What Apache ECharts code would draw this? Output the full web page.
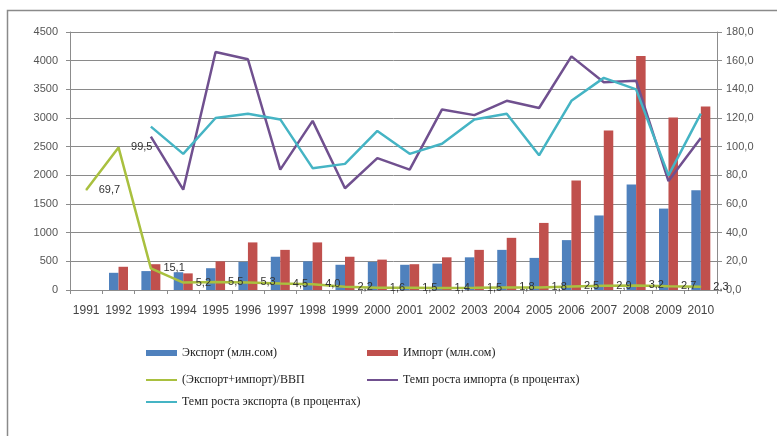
<!DOCTYPE html>
<html>
<head>
<meta charset="utf-8">
<script src="https://cdn.jsdelivr.net/npm/echarts@6/dist/echarts.min.js"></script>
<style>html,body{margin:0;padding:0;background:#fff}#c{width:777px;height:436px}</style>
</head>
<body>
<div id="c"></div>
<script>
var years = ['1991','1992','1993','1994','1995','1996','1997','1998','1999','2000','2001','2002','2003','2004','2005','2006','2007','2008','2009','2010'];
var exportVals = [null,300,330,310,380,490,580,500,440,490,440,460,570,700,560,870,1300,1840,1420,1740];
var importVals = [null,405,450,290,500,830,700,830,580,530,450,570,700,910,1170,1910,2780,4080,3010,3200];
var tradeToGdp = [69.7,99.5,15.1,5.2,5.5,5.3,4.5,4.0,2.2,1.6,1.5,1.4,1.5,1.8,1.8,2.5,2.9,3.2,2.7,2.3];
var importGrowth = [null,null,107,70,166,161,84,118,71,92,84,126,122,132,127,163,145,146,76,106];
var exportGrowth = [null,null,114,95,120,123,119,85,88,111,95,102,119,123,94,132,148,140,80,123];
var names = ['Экспорт (млн.сом)','Импорт (млн.сом)','(Экспорт+импорт)/ВВП','Темп роста импорта (в процентах)','Темп роста экспорта (в процентах)'];

var C_EXP = '#4F81BD', C_IMP = '#C0504D', C_GDP = '#A9C03F', C_IG = '#70508F', C_EG = '#45B4C4';
var comma = function(v){ return v.toFixed(1).replace('.', ','); };
var legendText = {fontFamily:'Liberation Serif', fontSize:12, color:'#222'};
function lg(name, left, top, icon, h){
  return {data:[{name:name, icon:icon}], left:left, top:top, itemWidth:31, itemHeight:h, itemGap:0, textStyle:legendText, selectedMode:false};
}
var chart = echarts.init(document.getElementById('c'));
chart.setOption({
  animation:false,
  backgroundColor:'#fff',
  graphic:[{type:'rect', shape:{x:7.5, y:10.5, width:900, height:600}, style:{fill:'none', stroke:'#8a8a8a', lineWidth:1.5}, silent:true}],
  grid:{left:70, right:60, top:32, height:258},
  legend:[
    lg(names[0], 141, 342, 'rect', 6),
    lg(names[1], 362, 342, 'rect', 6),
    lg(names[2], 141, 369, 'rect', 2),
    lg(names[3], 362, 369, 'rect', 2),
    lg(names[4], 141, 391, 'rect', 2)
  ],
  xAxis:{type:'category', data:years,
    axisLine:{lineStyle:{color:'#8c8c8c'}},
    axisTick:{show:true, length:4, lineStyle:{color:'#8c8c8c'}},
    axisLabel:{interval:0, margin:15, fontFamily:'Liberation Sans', fontSize:12, color:'#444'}},
  yAxis:[
    {type:'value', min:0, max:4500, interval:500,
     axisLine:{show:true, lineStyle:{color:'#8c8c8c'}},
     axisTick:{show:true, length:4, lineStyle:{color:'#8c8c8c'}},
     axisLabel:{fontFamily:'Liberation Sans', fontSize:11, color:'#555', margin:12, formatter:function(v){return String(v);}},
     splitLine:{lineStyle:{color:'#8a8a8a', width:1}}},
    {type:'value', min:0, max:180, interval:20, position:'right',
     axisLine:{show:true, lineStyle:{color:'#8c8c8c'}},
     axisTick:{show:true, length:5, lineStyle:{color:'#8c8c8c'}},
     axisLabel:{fontFamily:'Liberation Sans', fontSize:11, color:'#555', margin:9, formatter:comma},
     splitLine:{show:false}}
  ],
  series:[
    {name:names[0], type:'bar', data:exportVals, barWidth:9.5, barGap:'0%', itemStyle:{color:C_EXP}, z:2},
    {name:names[1], type:'bar', data:importVals, barWidth:9.5, barGap:'0%', itemStyle:{color:C_IMP}, z:2},
    {name:names[3], type:'line', yAxisIndex:1, data:importGrowth, symbol:'none', lineStyle:{color:C_IG, width:2.5}, itemStyle:{color:C_IG}, z:3},
    {name:names[4], type:'line', yAxisIndex:1, data:exportGrowth, symbol:'none', lineStyle:{color:C_EG, width:2.5}, itemStyle:{color:C_EG}, z:4},
    {name:names[2], type:'line', yAxisIndex:1, data:tradeToGdp, symbol:'circle', symbolSize:1, showSymbol:true,
     lineStyle:{color:C_GDP, width:2.5}, itemStyle:{color:C_GDP},
     label:{show:true, position:'right', distance:12, fontFamily:'Liberation Sans', fontSize:11, color:'#333', formatter:function(p){return comma(p.value);}}, z:5}
  ]
});
</script>
</body>
</html>
